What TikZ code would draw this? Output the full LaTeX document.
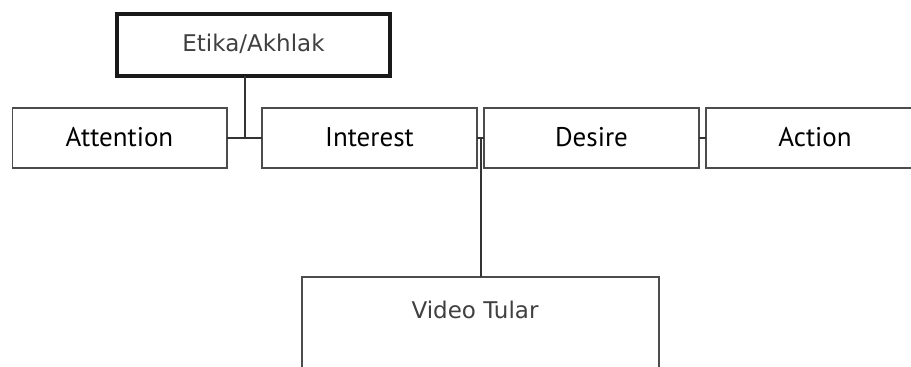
\documentclass[tikz,border=0pt]{standalone}
\usepackage{fontspec}
\setmainfont{PT Sans}
\newfontfamily\topfont{DejaVu Sans}
\begin{document}
\begin{tikzpicture}[x=1pt,y=-1pt,
  rowbox/.style={draw=black!70,line width=1.4pt,fill=white},
  linkline/.style={draw=black!80,line width=1.4pt},
  rowtext/.style={font=\fontsize{27}{30}\selectfont,text=black},
  toptext/.style={font=\topfont\fontsize{23}{26}\selectfont,text=black!75}]
\useasboundingbox (0,0) rectangle (911,367);
\clip (0,0) rectangle (911,367);
% boxes
\draw[line width=4.5pt,draw=black!90] (117,14) rectangle (390,76);
\node[toptext] (etika) at (253.5,44) {Etika/Akhlak};
\coordinate (etikaB) at (245,76);
\draw[rowbox] (12.7,108) rectangle (227,168);
\node[rowtext] (att) at (119.5,137) {Attention};
\draw[rowbox] (262,108) rectangle (477,168);
\node[rowtext] (int) at (369.5,137) {Interest};
\draw[rowbox] (484,108) rectangle (699,168);
\node[rowtext] (des) at (591.5,137) {Desire};
\draw[rowbox] (706,108) rectangle (925,168);
\node[rowtext] (act) at (815,137) {Action};
\draw[rowbox] (302,277) rectangle (659,380);
\node[toptext] (vid) at (475,310) {Video Tular};
% connectors
\coordinate (attR) at (227,138);
\coordinate (intL) at (262,138);
\coordinate (intR) at (477,138);
\coordinate (desL) at (484,138);
\coordinate (desR) at (699,138);
\coordinate (actL) at (706,138);
\coordinate (j1) at (245,138);
\coordinate (j2) at (481,138);
\coordinate (vidT) at (481,277);
\draw[linkline] (etikaB) -- (j1);
\draw[linkline] (attR) -- (intL);
\draw[linkline] (intR) -- (desL);
\draw[linkline] (j2) -- (vidT);
\draw[linkline] (desR) -- (actL);
\end{tikzpicture}
\end{document}
